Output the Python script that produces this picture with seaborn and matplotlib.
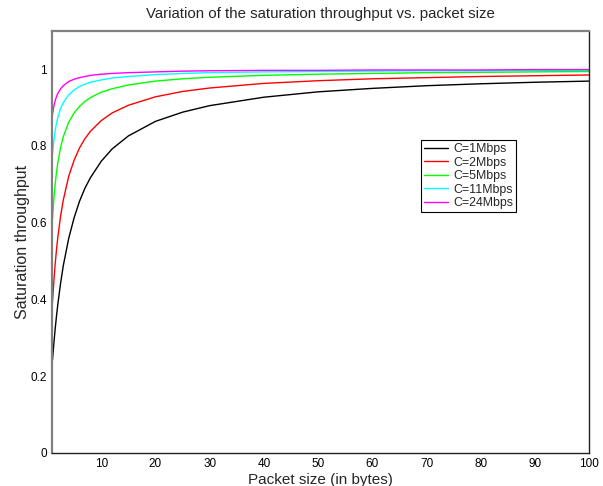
import pandas as pd
import matplotlib
matplotlib.use("Agg")
import matplotlib.pyplot as plt
import seaborn as sns

# packet sizes where curves were read
packet_size = [1, 1.25, 1.5, 1.75, 2, 2.5, 3, 4, 5, 6, 7, 8, 10, 12, 15, 20, 25, 30,
               40, 50, 60, 70, 80, 90, 100]

thr_1mbps = [0.241, 0.284, 0.323, 0.357, 0.388, 0.442, 0.488, 0.559, 0.613, 0.656, 0.690,
             0.717, 0.760, 0.792, 0.826, 0.864, 0.888, 0.905, 0.927, 0.941, 0.950, 0.957,
             0.962, 0.966, 0.969]
thr_2mbps = [0.392, 0.446, 0.492, 0.530, 0.563, 0.617, 0.659, 0.721, 0.763, 0.795, 0.819,
             0.838, 0.866, 0.886, 0.906, 0.928, 0.942, 0.951, 0.963, 0.970, 0.975, 0.978,
             0.981, 0.983, 0.985]
thr_5mbps = [0.609, 0.661, 0.700, 0.732, 0.757, 0.796, 0.824, 0.862, 0.886, 0.903, 0.916,
             0.926, 0.940, 0.949, 0.959, 0.969, 0.975, 0.979, 0.984, 0.987, 0.989, 0.991,
             0.992, 0.993, 0.994]
thr_11mbps = [0.778, 0.814, 0.840, 0.860, 0.875, 0.898, 0.913, 0.933, 0.946, 0.955, 0.961,
              0.966, 0.972, 0.977, 0.981, 0.986, 0.989, 0.991, 0.993, 0.994, 0.995, 0.996,
              0.996, 0.997, 0.997]
thr_24mbps = [0.882, 0.903, 0.918, 0.929, 0.937, 0.949, 0.957, 0.968, 0.974, 0.978, 0.981,
              0.984, 0.987, 0.989, 0.991, 0.993, 0.995, 0.996, 0.997, 0.997, 0.998, 0.998,
              0.998, 0.999, 0.999]

labels = ["C=1Mbps", "C=2Mbps", "C=5Mbps", "C=11Mbps", "C=24Mbps"]
colors = ["black", "red", "#00ff00", "cyan", "magenta"]

df = pd.concat([
    pd.DataFrame({"size": packet_size, "thr": vals, "rate": lab})
    for vals, lab in zip([thr_1mbps, thr_2mbps, thr_5mbps, thr_11mbps, thr_24mbps], labels)
])

sns.set_style("white")
plt.rcParams["font.family"] = ["Liberation Sans", "DejaVu Sans"]

fig = plt.figure(figsize=(6.03, 4.86), dpi=100)
ax = fig.add_axes([0.087, 0.0685, 0.890, 0.868])

sns.lineplot(data=df, x="size", y="thr", hue="rate", hue_order=labels,
             palette=dict(zip(labels, colors)), linewidth=1.0, ax=ax)

ax.set_xlim(1, 100)
ax.set_ylim(0, 1.1)
ax.set_xticks(range(10, 101, 10))
ax.set_yticks([0, 0.2, 0.4, 0.6, 0.8, 1.0])
ax.set_yticklabels(["0", "0.2", "0.4", "0.6", "0.8", "1"])
ax.tick_params(direction="in", length=4, width=0.8, labelsize=8.5, colors="#333333",
               labelcolor="black")
ax.tick_params(axis="y", pad=4)
ax.tick_params(axis="x", pad=4)
for side in ["left", "top"]:
    ax.spines[side].set_color("#808080")
    ax.spines[side].set_linewidth(1.6)
for side in ["bottom", "right"]:
    ax.spines[side].set_color("#222222")
    ax.spines[side].set_linewidth(1.0)

ax.set_title("Variation of the saturation throughput vs. packet size", fontsize=10.8, pad=9)
ax.set_xlabel("Packet size (in bytes)", fontsize=11, labelpad=2)
ax.set_ylabel("Saturation throughput", fontsize=11.5, labelpad=0)

leg = ax.legend(loc="upper left", bbox_to_anchor=(0.687, 0.741), fontsize=8.9,
                frameon=True, fancybox=False, framealpha=1, borderpad=0.25,
                labelspacing=0.12, handlelength=1.9, handletextpad=0.45, borderaxespad=0)
leg.get_frame().set_edgecolor("black")
leg.get_frame().set_linewidth(0.8)

fig.savefig("out.png", dpi=100)
